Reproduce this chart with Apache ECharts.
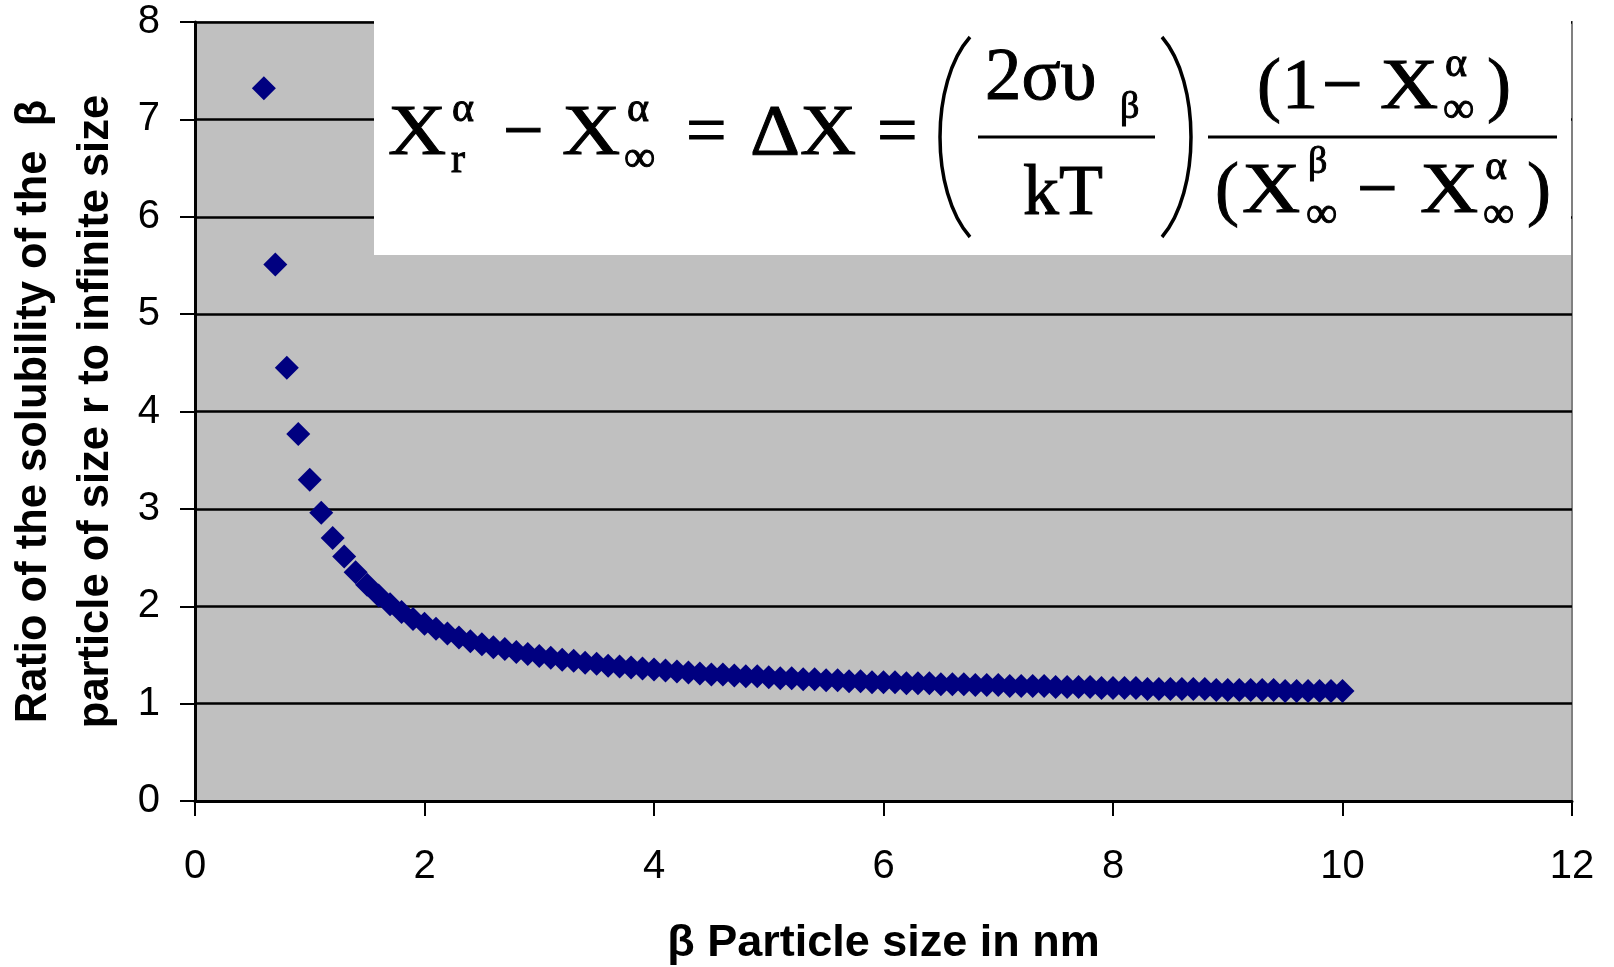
<!DOCTYPE html>
<html>
<head>
<meta charset="utf-8">
<title>Solubility ratio vs particle size</title>
<script src="https://cdn.jsdelivr.net/npm/echarts@6/dist/echarts.min.js"></script>
<style>
  html, body { margin: 0; padding: 0; background: #fff; }
  #chart { width: 1614px; height: 967px; }
</style>
</head>
<body>
<div id="chart"></div>
<script>
// particle size r (nm)
const sizes = [
  0.6, 0.7, 0.8, 0.9, 1.0, 1.1, 1.2, 1.3, 1.4, 1.5, 1.6, 1.7, 1.8, 1.9,
  2.0, 2.1, 2.2, 2.3, 2.4, 2.5, 2.6, 2.7, 2.8, 2.9,
  3.0, 3.1, 3.2, 3.3, 3.4, 3.5, 3.6, 3.7, 3.8, 3.9,
  4.0, 4.1, 4.2, 4.3, 4.4, 4.5, 4.6, 4.7, 4.8, 4.9,
  5.0, 5.1, 5.2, 5.3, 5.4, 5.5, 5.6, 5.7, 5.8, 5.9,
  6.0, 6.1, 6.2, 6.3, 6.4, 6.5, 6.6, 6.7, 6.8, 6.9,
  7.0, 7.1, 7.2, 7.3, 7.4, 7.5, 7.6, 7.7, 7.8, 7.9,
  8.0, 8.1, 8.2, 8.3, 8.4, 8.5, 8.6, 8.7, 8.8, 8.9,
  9.0, 9.1, 9.2, 9.3, 9.4, 9.5, 9.6, 9.7, 9.8, 9.9, 10.0
]
// ratio of solubility at size r to infinite size
const ratios = [
  7.32, 5.51, 4.45, 3.77, 3.30, 2.96, 2.70, 2.51, 2.35, 2.22, 2.11, 2.02, 1.94, 1.87,
  1.82, 1.77, 1.72, 1.68, 1.64, 1.61, 1.58, 1.56, 1.53, 1.51,
  1.49, 1.47, 1.45, 1.44, 1.42, 1.41, 1.39, 1.38, 1.37, 1.36,
  1.35, 1.34, 1.33, 1.32, 1.31, 1.30, 1.30, 1.29, 1.28, 1.28,
  1.27, 1.26, 1.26, 1.25, 1.25, 1.24, 1.24, 1.23, 1.23, 1.22,
  1.22, 1.22, 1.21, 1.21, 1.21, 1.20, 1.20, 1.20, 1.19, 1.19,
  1.19, 1.18, 1.18, 1.18, 1.18, 1.17, 1.17, 1.17, 1.17, 1.16,
  1.16, 1.16, 1.16, 1.15, 1.15, 1.15, 1.15, 1.15, 1.15, 1.14,
  1.14, 1.14, 1.14, 1.14, 1.14, 1.13, 1.13, 1.13, 1.13, 1.13, 1.13
]
const xTicks = [0, 2, 4, 6, 8, 10, 12]
const yTicks = [0, 1, 2, 3, 4, 5, 6, 7, 8]

const xTitle = 'β Particle size in nm'
const yTitle = 'Ratio of the solubility of the  β\nparticle of size r to infinite size'

const SANS = '"Liberation Sans", Arial, sans-serif'
const SERIF = '"Liberation Serif", "Times New Roman", serif'

// one piece of the equation, placed by its left edge and baseline
function tx(text, x, base, size, sx) {
  return {
    type: 'text', x: x, y: base - 0.28 * size, z: 101, scaleX: sx || 1,
    style: {
      text: text, font: size + 'px ' + SERIF, fill: '#000',
      stroke: '#000', lineWidth: 1, align: 'left', verticalAlign: 'middle'
    }
  }
}
function bar(x1, x2, y) {
  return { type: 'line', z: 101, shape: { x1: x1, y1: y, x2: x2, y2: y }, style: { stroke: '#000', lineWidth: 3 } }
}
function paren(xEnd, xMid, top, bottom) {
  const cp = (xMid - 0.25 * xEnd) / 0.75
  return {
    type: 'bezierCurve', z: 101,
    shape: { x1: xEnd, y1: top, x2: xEnd, y2: bottom, cpx1: cp, cpy1: top + 45, cpx2: cp, cpy2: bottom - 45 },
    style: { stroke: '#000', lineWidth: 3.5, fill: null }
  }
}

const formula = [
  { type: 'rect', z: 100, shape: { x: 374, y: 21, width: 1197, height: 234 }, style: { fill: '#fff' } },
  // X_r^a - X_inf^a = dX =
  tx('X', 388, 155, 72, 1.12), tx('α', 452, 122, 42), tx('r', 451, 173, 42),
  tx('−', 503, 155, 72),
  tx('X', 562, 155, 72, 1.12), tx('α', 627, 122, 42), tx('∞', 624, 172, 44),
  tx('=', 686, 155, 72),
  tx('ΔX', 750, 155, 72, 1.08),
  tx('=', 877, 155, 72),
  // (2 sigma v_beta / kT)
  paren(970, 940, 37, 237),
  tx('2συ', 985, 100, 75, 0.97), tx('β', 1120, 119, 38),
  bar(978, 1155, 137),
  tx('kT', 1023, 215, 72),
  paren(1162, 1191, 37, 237),
  // (1 - X_inf^a) / (X_inf^b - X_inf^a)
  tx('(', 1257, 109, 72), tx('1', 1282, 109, 72), tx('−', 1322, 109, 72),
  tx('X', 1380, 109, 72, 1.12), tx('α', 1445, 77, 42), tx('∞', 1443, 123, 44), tx(')', 1487, 109, 72),
  bar(1208, 1557, 137),
  tx('(', 1215, 213, 72), tx('X', 1242, 213, 72, 1.12), tx('β', 1308, 174, 38), tx('∞', 1306, 228, 44),
  tx('−', 1357, 213, 72),
  tx('X', 1420, 213, 72, 1.12), tx('α', 1485, 180, 42), tx('∞', 1483, 228, 44), tx(')', 1527, 213, 72)
]

const chart = echarts.init(document.getElementById('chart'), null, { renderer: 'canvas' })

const option = {
  animation: false,
  backgroundColor: '#fff',
  grid: {
    left: 195, right: 42, top: 22, bottom: 166,
    outerBoundsMode: 'none', containLabel: false,
    show: true, backgroundColor: '#c0c0c0', borderColor: '#808080', borderWidth: 2
  },
  xAxis: {
    type: 'value', min: xTicks[0], max: xTicks[xTicks.length - 1], interval: xTicks[1] - xTicks[0],
    name: xTitle, nameLocation: 'middle', nameGap: 120,
    nameTextStyle: { fontFamily: SANS, fontWeight: 'bold', fontSize: 45, color: '#000' },
    axisLine: { show: true, onZero: false, lineStyle: { color: '#000', width: 3 } },
    axisTick: { show: true, inside: false, length: 15, lineStyle: { color: '#000', width: 2 } },
    axisLabel: { fontFamily: SANS, fontSize: 40, color: '#000', margin: 46 },
    splitLine: { show: false }
  },
  yAxis: {
    type: 'value', min: yTicks[0], max: yTicks[yTicks.length - 1], interval: yTicks[1] - yTicks[0],
    name: yTitle, nameLocation: 'middle', nameGap: 68,
    nameTextStyle: { fontFamily: SANS, fontWeight: 'bold', fontSize: 43.5, lineHeight: 62, color: '#000', align: 'center' },
    axisLine: { show: true, onZero: false, lineStyle: { color: '#000', width: 3 } },
    axisTick: { show: true, inside: false, length: 15, lineStyle: { color: '#000', width: 2 } },
    axisLabel: { fontFamily: SANS, fontSize: 40, color: '#000', margin: 35 },
    splitLine: { show: true, lineStyle: { color: '#000', width: 2.5 } }
  },
  series: [{
    type: 'scatter',
    data: sizes.map((s, i) => [s, ratios[i]]),
    symbol: 'diamond',
    symbolSize: 24,
    itemStyle: { color: '#000080', opacity: 1 }
  }],
  graphic: formula
}

chart.setOption(option)
</script>
</body>
</html>
